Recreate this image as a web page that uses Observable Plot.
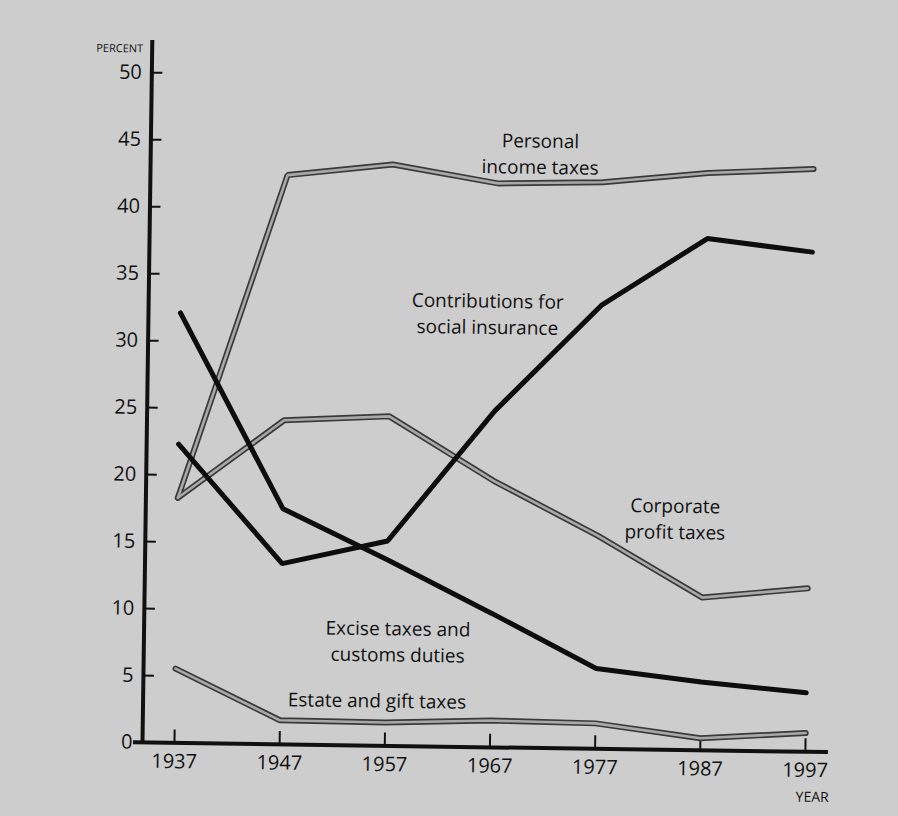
<!DOCTYPE html>
<html>
<head>
<meta charset="utf-8">
<script src="https://cdn.jsdelivr.net/npm/d3@7"></script>
<script src="https://cdn.jsdelivr.net/npm/@observablehq/plot@0.6"></script>
<style>
  html, body { margin: 0; padding: 0; background: #cdcdcd; }
  #chart { width: 898px; height: 816px; overflow: hidden; }
  #chart svg { transform: rotate(0.8deg); transform-origin: 142px 742px; }
</style>
</head>
<body>
<div id="chart"></div>
<script>
// ---- Data (percent of total federal receipts) ----
const years = [1937, 1947, 1957, 1967, 1977, 1987, 1997];
const personalIncomeTaxes   = [18.3, 42.5, 43.4, 42.1, 42.3, 43.1, 43.5];
const socialInsurance       = [22.3, 13.5, 15.3, 25.1, 33.1, 38.2, 37.3];
const corporateProfitTaxes  = [18.3, 24.2, 24.6, 19.9, 15.9, 11.4, 12.2];
const exciseCustoms         = [32.1, 17.6, 13.9, 10.0, 6.0, 5.1, 4.4];
const estateGiftTaxes       = [5.55, 1.8, 1.75, 2.0, 1.9, 0.9, 1.4];

const seriesNames = [
  "Personal\nincome taxes",
  "Contributions for\nsocial insurance",
  "Corporate\nprofit taxes",
  "Excise taxes and\ncustoms duties",
  "Estate and gift taxes"
];
const yTicks = [0, 5, 10, 15, 20, 25, 30, 35, 40, 45, 50];
const xTicks = years;
const yAxisTitle = "PERCENT";
const xAxisTitle = "YEAR";

// ---- Build tidy table ----
const seriesValues = [personalIncomeTaxes, socialInsurance, corporateProfitTaxes, exciseCustoms, estateGiftTaxes];
const rows = seriesNames.flatMap((name, s) =>
  years.map((yr, i) => ({series: name, year: yr, value: seriesValues[s][i]}))
);
const greySeries = new Set([seriesNames[0], seriesNames[2], seriesNames[4]]);
const greyRows = rows.filter(d => greySeries.has(d.series));
const blackRows = rows.filter(d => !greySeries.has(d.series));

// ---- Layout (label anchors in data space) ----
const xMin = 1933.96, xMax = 1999.19, yMax = 52.4;
const labelAnchors = [
  {text: seriesNames[0], x: 1971.0, y: 46.2},
  {text: seriesNames[1], x: 1966.2, y: 34.2},
  {text: seriesNames[2], x: 1984.3, y: 19.1},
  {text: seriesNames[3], x: 1958.1, y: 9.65},
  {text: seriesNames[4], x: 1956.2, y: 4.25}
];

const chart = Plot.plot({
  width: 898,
  height: 816,
  marginLeft: 142,
  marginRight: 70,
  marginTop: 40,
  marginBottom: 74,
  style: {background: "transparent", fontFamily: "'Open Sans', 'Noto Sans', sans-serif", color: "#111", overflow: "visible"},
  x: {domain: [xMin, xMax], label: null},
  y: {domain: [0, yMax], label: null},
  marks: [
    // axis lines
    Plot.ruleY([0], {stroke: "#111", strokeWidth: 4, insetLeft: -9}),
    Plot.ruleX([xMin], {stroke: "#111", strokeWidth: 4}),
    // y ticks pointing inward
    Plot.axisY(yTicks, {anchor: "left", tickSize: -11, tickPadding: 21, fontSize: 20, strokeWidth: 2, stroke: "#111", fill: "#111", label: null}),
    // x ticks pointing upward
    Plot.axisX(xTicks, {anchor: "bottom", tickSize: -13, tickPadding: 24, fontSize: 20, strokeWidth: 2, stroke: "#111", fill: "#111", tickFormat: d => String(d), label: null}),
    // grey (outlined) series
    Plot.line(greyRows, {x: "year", y: "value", z: "series", stroke: "#3a3a3a", strokeWidth: 6, strokeLinejoin: "miter"}),
    Plot.line(greyRows, {x: "year", y: "value", z: "series", stroke: "#a9a9a9", strokeWidth: 2.6, strokeLinejoin: "miter"}),
    // black series
    Plot.line(blackRows, {x: "year", y: "value", z: "series", stroke: "#0d0d0d", strokeWidth: 5, strokeLinejoin: "miter"}),
    // series labels
    Plot.text(labelAnchors, {x: "x", y: "y", text: "text", fontSize: 19, lineAnchor: "top", lineHeight: 1.38, textAnchor: "middle", fill: "#111"}),
    // axis titles
    Plot.text([yAxisTitle], {frameAnchor: "top-left", dx: -9, dy: 12, textAnchor: "end", lineAnchor: "bottom", fontSize: 11, fill: "#111"}),
    Plot.text([xAxisTitle], {frameAnchor: "bottom-right", dx: 1, dy: 50, textAnchor: "end", lineAnchor: "bottom", fontSize: 14, fill: "#111"})
  ]
});
document.getElementById("chart").appendChild(chart);
</script>
</body>
</html>
